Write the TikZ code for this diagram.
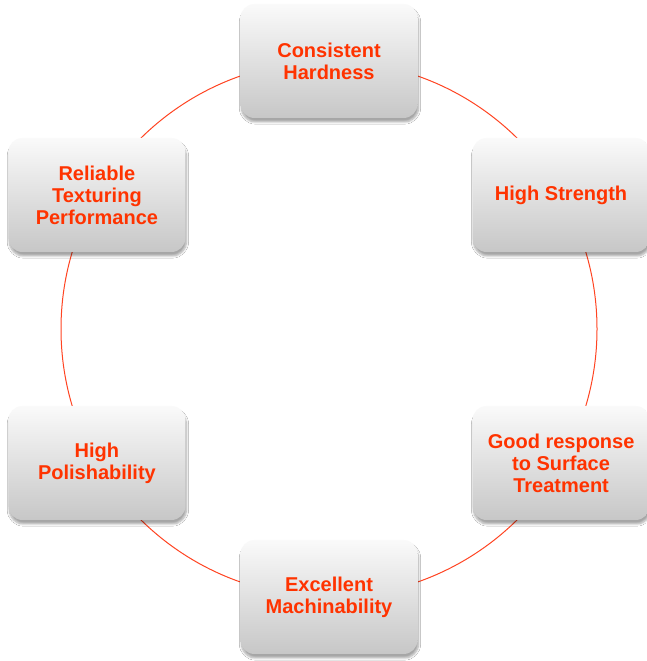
\documentclass[tikz,border=0pt]{standalone}
\usepackage{fontspec}
\setmainfont{Liberation Sans}
\usetikzlibrary{calc,shadows.blur}
\definecolor{txt}{HTML}{FF3300}
\definecolor{ring}{HTML}{FF4422}
\begin{document}
\begin{tikzpicture}[x=1pt,y=1pt,
  card/.style={rectangle, rounded corners=14pt, minimum width=177pt, minimum height=114pt,
    top color=black!2, bottom color=black!22,
    blur shadow={shadow xshift=1pt, shadow yshift=-4pt, shadow blur steps=6, shadow opacity=35},
    text=txt, font=\fontsize{20}{22}\selectfont\bfseries, align=center}]
\useasboundingbox (0,0) rectangle (646,661);
\fill[white] (0,0) rectangle (646,661);
\coordinate (ctr) at (329,332);
\draw[ring, line width=1pt] (ctr) circle[radius=268];
\node[card] (hard) at ($(ctr)+(90:268)$) {Consistent\\Hardness};
\node[card] (strength) at ($(ctr)+(30:268)$) {High Strength};
\node[card] (surface) at ($(ctr)+(-30:268)$) {Good response\\to Surface\\Treatment};
\node[card] (mach) at ($(ctr)+(-90:268)$) {Excellent\\Machinability};
\node[card] (polish) at ($(ctr)+(-150:268)$) {High\\Polishability};
\node[card] (texture) at ($(ctr)+(150:268)$) {Reliable\\Texturing\\Performance};
\end{tikzpicture}
\end{document}
